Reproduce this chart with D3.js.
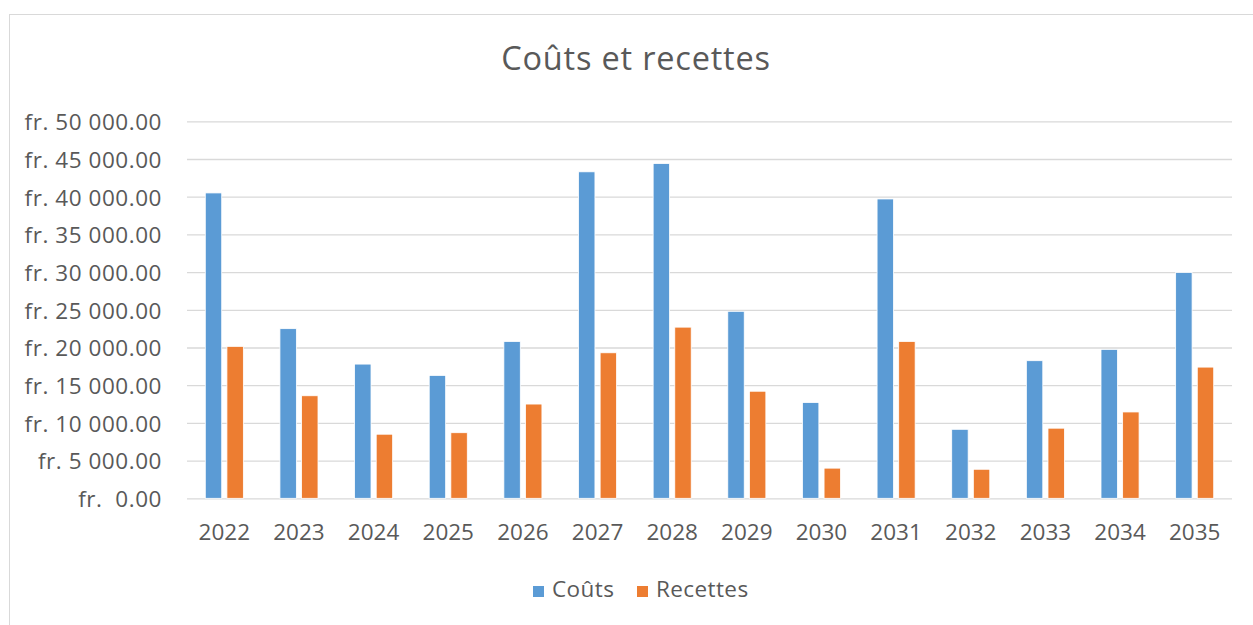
<!DOCTYPE html>
<html>
<head>
<meta charset="utf-8">
<script src="https://cdn.jsdelivr.net/npm/d3@7"></script>
<style>
  html, body { margin: 0; padding: 0; background: #fff; }
  svg { display: block; font-family: "Open Sans", sans-serif; }
  text { white-space: pre; }
</style>
</head>
<body>
<svg id="chart" width="1253" height="625"></svg>
<script>
// Years shown on the category axis
const years = ["2022", "2023", "2024", "2025", "2026", "2027", "2028",
               "2029", "2030", "2031", "2032", "2033", "2034", "2035"];

// Yearly amounts in CHF
const couts = [40500, 22500, 17800, 16300, 20800, 43300, 44400,
               24800, 12700, 39700, 9150, 18250, 19750, 29950];
const recettes = [20150, 13600, 8500, 8700, 12500, 19300, 22700,
                  14200, 4000, 20800, 3850, 9300, 11450, 17400];

const seriesNames = ["Coûts", "Recettes"];
const seriesColors = ["#5B9BD5", "#ED7D31"];

// Value axis ticks and their labels
const yTicks = [0, 5000, 10000, 15000, 20000, 25000, 30000, 35000, 40000, 45000, 50000];
const yTickLabels = ["fr.  0.00", "fr. 5 000.00", "fr. 10 000.00", "fr. 15 000.00",
                     "fr. 20 000.00", "fr. 25 000.00", "fr. 30 000.00", "fr. 35 000.00",
                     "fr. 40 000.00", "fr. 45 000.00", "fr. 50 000.00"];

const title = "Coûts et recettes";
const textColor = "#595959";
const labelSize = 22.5;

const svg = d3.select("#chart");

// Chart frame
svg.append("rect")
  .attr("x", 9.5).attr("y", 14.5)
  .attr("width", 1300).attr("height", 700)
  .attr("fill", "#fff").attr("stroke", "#D9D9D9").attr("stroke-width", 1);

const plot = { left: 187, right: 1232, top: 121.3, bottom: 498.3 };

const x = d3.scaleBand()
  .domain(years)
  .range([plot.left, plot.right])
  .paddingInner(0.49)
  .paddingOuter(0.245);

const xSeries = d3.scaleBand()
  .domain(seriesNames)
  .range([0, x.bandwidth()])
  .paddingInner(0.24);

const y = d3.scaleLinear()
  .domain([0, 50000])
  .range([plot.bottom, plot.top]);

// Title
svg.append("text")
  .attr("x", 636).attr("y", 69.5)
  .attr("text-anchor", "middle")
  .attr("fill", textColor)
  .attr("font-size", 32.5)
  .attr("letter-spacing", 0.8)
  .text(title);

// Horizontal gridlines with currency labels
const yAxis = d3.axisLeft(y)
  .tickValues(yTicks)
  .tickSize(-(plot.right - plot.left))
  .tickPadding(25)
  .tickFormat((d, i) => yTickLabels[i]);

const gy = svg.append("g")
  .attr("transform", `translate(${plot.left},0)`)
  .call(yAxis);
gy.select(".domain").remove();
gy.selectAll(".tick line").attr("stroke", "#D9D9D9").attr("stroke-width", 1.3);
gy.selectAll(".tick text")
  .attr("fill", textColor)
  .attr("font-size", labelSize)
  .attr("font-family", "'Open Sans', sans-serif")
  .attr("letter-spacing", 0.55)
  .attr("dy", "0.37em");

// Bars
const data = years.map((yr, i) => ({ year: yr, values: [couts[i], recettes[i]] }));

const groups = svg.append("g").selectAll("g")
  .data(data)
  .join("g")
  .attr("transform", d => `translate(${x(d.year)},0)`);

groups.selectAll("rect")
  .data(d => d.values.map((v, k) => ({ key: seriesNames[k], value: v, color: seriesColors[k] })))
  .join("rect")
  .attr("x", d => xSeries(d.key))
  .attr("y", d => y(d.value))
  .attr("width", xSeries.bandwidth())
  .attr("height", d => y(0) - y(d.value))
  .attr("fill", d => d.color)
  .attr("stroke", "#fff")
  .attr("stroke-width", 0.8);

// Category axis labels
const xAxis = d3.axisBottom(x).tickSize(0).tickPadding(0);
const gx = svg.append("g")
  .attr("transform", `translate(0,${plot.bottom})`)
  .call(xAxis);
gx.select(".domain").remove();
gx.selectAll(".tick text")
  .attr("fill", textColor)
  .attr("font-size", labelSize)
  .attr("font-family", "'Open Sans', sans-serif")
  .attr("dy", null)
  .attr("y", 41.7);

// Legend
const legendItems = [
  { name: seriesNames[0], color: seriesColors[0], x: 533 },
  { name: seriesNames[1], color: seriesColors[1], x: 637 }
];
const legend = svg.append("g");
legendItems.forEach(item => {
  legend.append("rect")
    .attr("x", item.x).attr("y", 586)
    .attr("width", 11).attr("height", 11)
    .attr("fill", item.color);
  legend.append("text")
    .attr("x", item.x + 19).attr("y", 597.3)
    .attr("fill", textColor)
    .attr("font-size", labelSize)
    .attr("letter-spacing", 0.4)
    .text(item.name);
});
</script>
</body>
</html>
